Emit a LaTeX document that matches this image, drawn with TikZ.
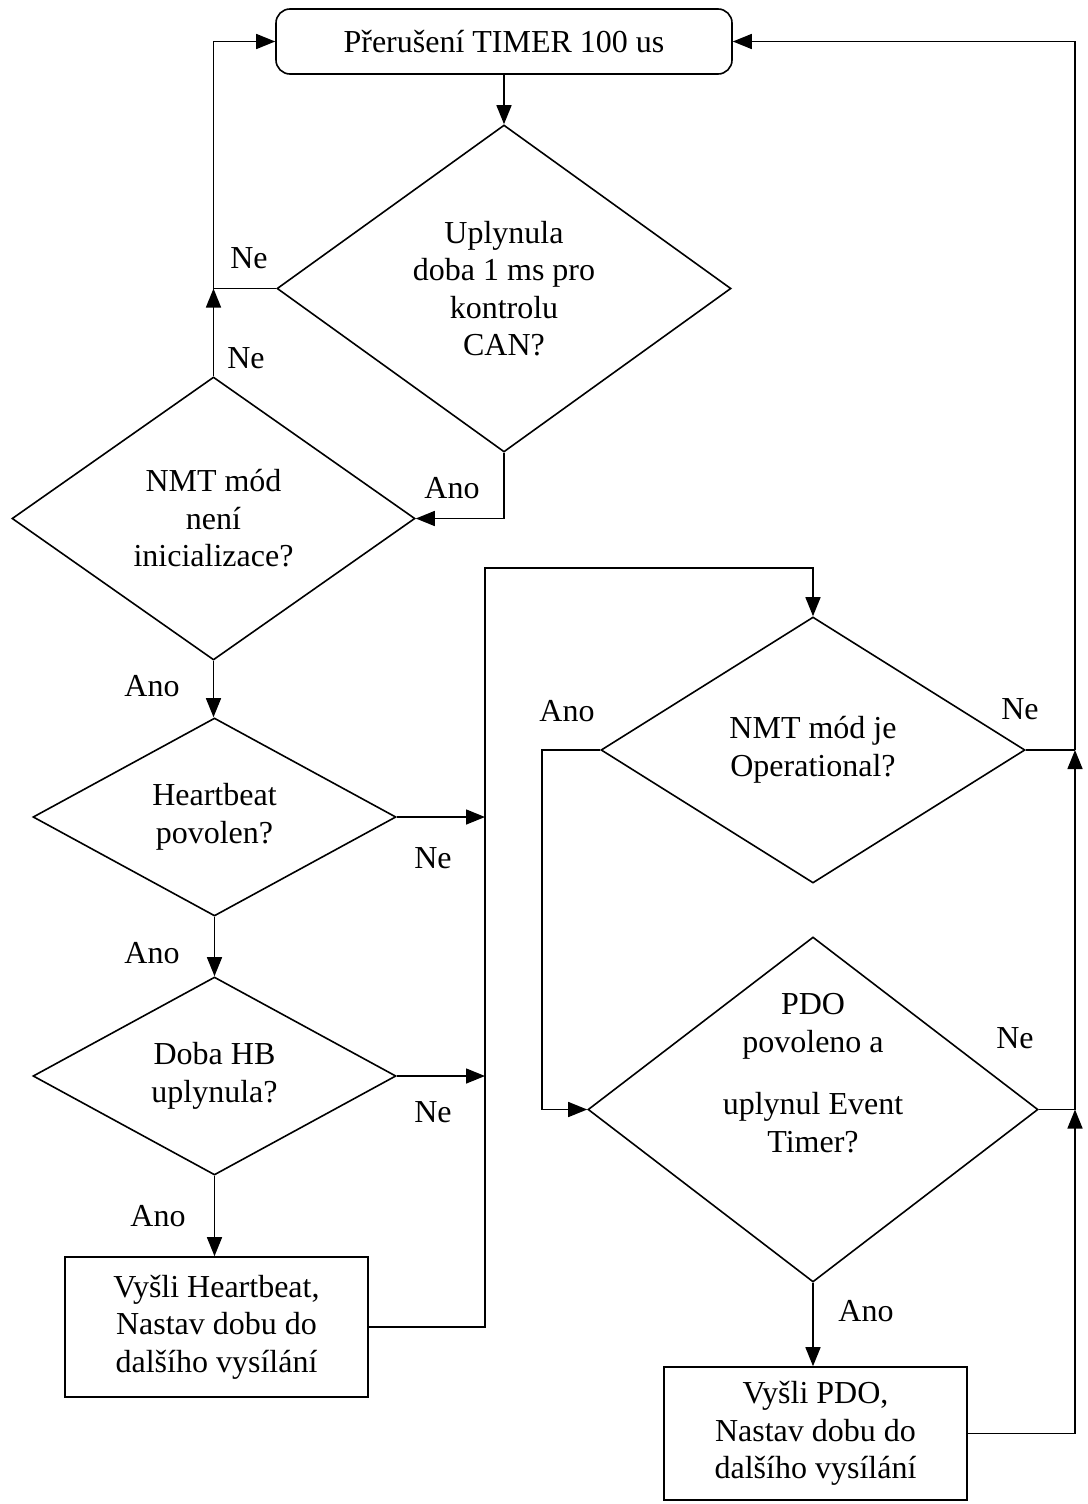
\documentclass[tikz,border=0pt]{standalone}
\usepackage{fontspec}
\setmainfont{Liberation Serif}
\usetikzlibrary{shapes.geometric,arrows.meta,calc}
\begin{document}
\begin{tikzpicture}[x=1pt,y=-1pt,
  every node/.style={font=\fontsize{32}{37.5}\selectfont},
  dec/.style={diamond,draw,line width=1.6pt,inner sep=0pt,align=center},
  procbox/.style={rectangle,draw,line width=1.6pt,inner sep=0pt,align=center},
  conn/.style={line width=1.5pt},
  arr/.style={conn,-{Triangle[length=19pt,width=15pt]}},
  lbl/.style={inner sep=0pt}]
\useasboundingbox (0,0) rectangle (1087,1504);

\node[procbox,rounded corners=14pt,minimum width=456pt,minimum height=65pt] (box1) at (504,41.5) {Přerušení TIMER 100 us};
\node[dec,minimum width=454pt,minimum height=327pt] (d1) at (504,288.5) {Uplynula\\doba 1 ms pro\\kontrolu\\CAN?};
\node[dec,minimum width=403pt,minimum height=283pt] (d2) at (213.5,518.5) {NMT mód\\není\\inicializace?};
\node[dec,minimum width=363pt,minimum height=198pt] (d3) at (214.5,817) {Heartbeat\\povolen?};
\node[dec,minimum width=363pt,minimum height=198pt] (d4) at (214.5,1076) {Doba HB\\uplynula?};
\node[procbox,minimum width=303pt,minimum height=140pt] (hb) at (216.5,1327) {Vyšli Heartbeat,\\Nastav dobu do\\dalšího vysílání};
\node[dec,minimum width=424pt,minimum height=266pt] (d5) at (813,750) {NMT mód je\\Operational?};
\node[dec,minimum width=450pt,minimum height=345pt] (d6) at (813,1109.5) {};
\node[inner sep=0pt,align=center] (d6t) at (813,1073) {PDO\\povoleno a\\[25pt]uplynul Event\\Timer?};
\node[procbox,minimum width=303pt,minimum height=133pt] (pdo) at (815.5,1433.5) {Vyšli PDO,\\Nastav dobu do\\dalšího vysílání};

\coordinate (j1) at (213.5,288.5);
\coordinate (b1) at (485,568);
\coordinate (b2) at (542,750);
\coordinate (r5) at (1075,750);
\coordinate (r6) at (1075,1109.5);

\draw[arr] (box1.south) -- (d1.north);
\draw[arr] (d1.west) -- (j1) |- (box1.west);
\draw[arr] (d2.north) -- (j1);
\draw[arr] (d1.south) |- (d2.east);
\draw[arr] (d2.south) -- (d2.south |- d3.north);
\draw[arr] (d3.south) -- (d4.north);
\draw[arr] (d4.south) -- (d4.south |- hb.north);
\draw[arr] (d3.east) -- (b1 |- d3.east);
\draw[arr] (d4.east) -- (b1 |- d4.east);
\draw[arr] (hb.east) -| (b1) -| (d5.north);
\draw[arr] (d5.west) -- (b2) |- (d6.west);
\draw[arr] (d6.south) -- (d6.south |- pdo.north);
\draw[arr] (pdo.east) -| (r6);
\draw[arr] (r6) -- (r5);
\draw[arr] (r5) |- (box1.east);
\draw[conn] (d5.east) -- (r5);
\draw[conn] (d6.east) -- (r6);

\node[lbl] (l1) at (249,258) {Ne};
\node[lbl] (l2) at (246,358) {Ne};
\node[lbl] (l3) at (452,488) {Ano};
\node[lbl] (l4) at (152,686) {Ano};
\node[lbl] (l5) at (433,858) {Ne};
\node[lbl] (l6) at (152,953) {Ano};
\node[lbl] (l7) at (433,1112) {Ne};
\node[lbl] (l8) at (158,1216) {Ano};
\node[lbl] (l9) at (567,711) {Ano};
\node[lbl] (l10) at (1020,709) {Ne};
\node[lbl] (l11) at (1015,1038) {Ne};
\node[lbl] (l12) at (866,1311) {Ano};
\end{tikzpicture}
\end{document}
